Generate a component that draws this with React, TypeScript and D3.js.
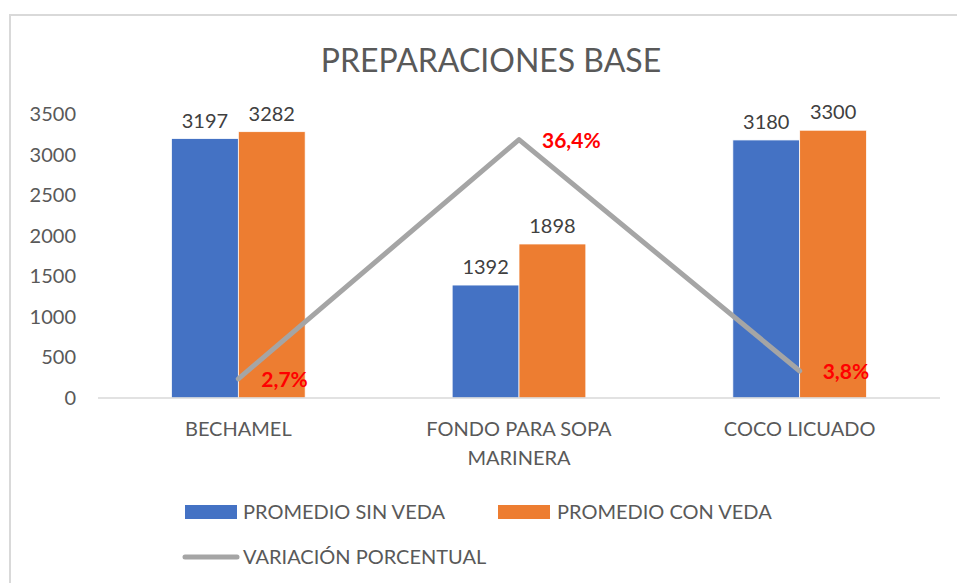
import React from 'react'
import * as d3 from 'd3'

const categories = [['BECHAMEL'], ['FONDO PARA SOPA', 'MARINERA'], ['COCO LICUADO']]
const sinVeda = [3197, 1392, 3180]
const conVeda = [3282, 1898, 3300]
const variacion = [0.027, 0.364, 0.038]
const variacionLabels = ['2,7%', '36,4%', '3,8%']
const yTicks = [0, 500, 1000, 1500, 2000, 2500, 3000, 3500]

const W = 957
const H = 583
const plot = { left: 98, right: 940, top: 114, bottom: 398 }
const font = 'Lato, "Open Sans", sans-serif'
const txt = '#595959'

export default function App() {
  const x0 = d3.scaleBand<number>()
    .domain(d3.range(categories.length))
    .range([plot.left, plot.right])
  const x1 = d3.scaleBand<string>()
    .domain(['sin', 'con'])
    .range([0, x0.bandwidth()])
    .paddingInner(0)
    .paddingOuter(1.1)
  const y = d3.scaleLinear().domain([0, 3500]).range([plot.bottom, plot.top])
  const y2 = d3.scaleLinear().domain([0, 0.4]).range([plot.bottom, plot.top])

  const cx = (i: number) => x0(i)! + x0.bandwidth() / 2
  const line = d3.line<number>()
    .x((_, i) => cx(i))
    .y(d => y2(d))

  const series = [
    { key: 'sin', values: sinVeda, color: '#4472C4' },
    { key: 'con', values: conVeda, color: '#ED7D31' }
  ]

  return (
    <svg width={W} height={H} style={{ position: 'absolute', left: 0, top: 0 }}>
      <rect x={0} y={0} width={W} height={H} fill="#fff" />
      <rect x={10} y={15} width={W} height={H} fill="none" stroke="#d9d9d9" strokeWidth={2} />
      <text x={491} y={72} textAnchor="middle" fontFamily={font} fontSize={32} fill={txt}>
        PREPARACIONES BASE
      </text>

      {/* y axis labels */}
      {yTicks.map(t => (
        <text key={t} x={76} y={y(t)} dy="0.35em" textAnchor="end" fontFamily={font} fontSize={20} fill={txt}>
          {t}
        </text>
      ))}

      {/* bars */}
      {series.map(s => s.values.map((v, i) => (
        <g key={s.key + i}>
          <rect
            x={x0(i)! + x1(s.key)!}
            y={y(v)}
            width={x1.bandwidth()}
            height={plot.bottom - y(v)}
            fill={s.color}
            stroke="#fff"
            strokeWidth={0.75}
          />
          <text
            x={x0(i)! + x1(s.key)! + x1.bandwidth() / 2}
            y={y(v) - 11}
            textAnchor="middle"
            fontFamily={font}
            fontSize={20}
            fill="#404040"
          >
            {v}
          </text>
        </g>
      )))}

      {/* baseline */}
      <line x1={plot.left} x2={plot.right} y1={plot.bottom} y2={plot.bottom} stroke="#d9d9d9" strokeWidth={1.5} />

      {/* variation line */}
      <path d={line(variacion)!} fill="none" stroke="#A5A5A5" strokeWidth={5} strokeLinecap="round" strokeLinejoin="round" />
      {variacion.map((v, i) => (
        <text
          key={i}
          x={cx(i) + 23}
          y={y2(v)}
          dy="0.4em"
          fontFamily={font}
          fontSize={21}
          fontWeight="bold"
          fill="#FF0000"
        >
          {variacionLabels[i]}
        </text>
      ))}

      {/* category labels */}
      {categories.map((lines, i) => (
        <text key={i} x={cx(i)} y={436} textAnchor="middle" fontFamily={font} fontSize={20} fill={txt}>
          {lines.map((l, j) => (
            <tspan key={j} x={cx(i)} dy={j === 0 ? 0 : 29}>{l}</tspan>
          ))}
        </text>
      ))}

      {/* legend */}
      <rect x={185} y={505} width={52} height={14} fill="#4472C4" />
      <text x={243} y={512} dy="0.35em" fontFamily={font} fontSize={20} fill={txt}>PROMEDIO SIN VEDA</text>
      <rect x={498} y={505} width={52} height={14} fill="#ED7D31" />
      <text x={557} y={512} dy="0.35em" fontFamily={font} fontSize={20} fill={txt}>PROMEDIO CON VEDA</text>
      <line x1={185} x2={237} y1={557} y2={557} stroke="#A5A5A5" strokeWidth={5} strokeLinecap="round" />
      <text x={243} y={557} dy="0.35em" fontFamily={font} fontSize={20} fill={txt}>VARIACIÓN PORCENTUAL</text>
    </svg>
  )
}
